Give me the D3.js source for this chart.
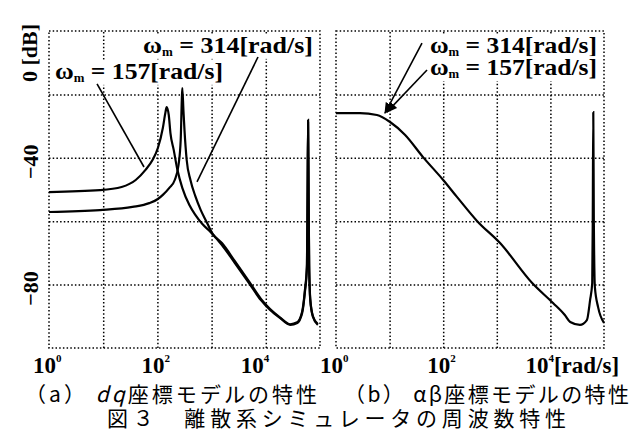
<!DOCTYPE html>
<html>
<head>
<meta charset="utf-8">
<title>図3 離散系シミュレータの周波数特性</title>
<script src="https://cdnjs.cloudflare.com/ajax/libs/d3/7.8.5/d3.min.js"></script>
<style>
  body { margin: 0; background: #fff; }
  .grid line, .frame { stroke: #000; stroke-width: 1.5; stroke-dasharray: 1.5 2.2; fill: none; }
  .curve { fill: none; stroke: #000; stroke-width: 2.2; }
  .leader { stroke: #000; stroke-width: 1.6; }
  .wlabel, .tick-label, .gain-label { font-family: "Liberation Serif", "DejaVu Serif", serif; font-weight: bold; fill: #000; }
  .caption { font-family: "Noto Sans CJK JP", "Noto Sans", sans-serif; fill: #000; }
</style>
</head>
<body>
<svg id="chart" width="639" height="434"></svg>
<script>
// frequency [rad/s] and gain [dB]

// (a) dq model, wm = 157 rad/s
var dq157Freq = [1, 8.7, 21.9, 39.8, 60.3, 81.3, 102, 126, 141, 148, 162, 174, 200, 234, 288, 389, 501, 676, 955,
                 1550, 2690, 4900, 8130, 12000, 18200, 28200, 38000, 46800, 52500, 57500, 58900, 60300, 61700, 63100, 66100, 74100, 91200];
var dq157Gain = [-50.8, -50.2, -49.2, -47.0, -43.8, -40.7, -36.9, -30.6, -25.6, -24.0, -26.5, -32.2, -37.5, -43.8, -49.5, -54.9, -58.0, -60.9, -63.4,
                 -67.5, -73.2, -79.5, -84.9, -88.0, -90.5, -92.7, -92.1, -89.0, -82.6, -74.4, -53.3, -29.0, -53.3, -74.4, -84.9, -90.2, -92.7];

// (a) dq model, wm = 314 rad/s
var dq314Freq = [1, 8.7, 34.7, 70.8, 102, 126, 166, 209, 245, 269, 282, 288, 302, 316, 347, 407, 501, 631, 813, 1047,
                 1550, 2690, 4900, 8130, 12000, 18200, 28200, 38000, 46800, 52500, 57500, 58900, 60300, 61700, 63100, 66100, 74100, 91200];
var dq314Gain = [-57.1, -56.5, -55.5, -54.3, -53.0, -51.7, -49.5, -47.0, -42.3, -34.4, -21.8, -18.0, -24.9, -31.2, -40.7, -47.0, -52.1, -56.5, -60.3, -64.0,
                 -66.9, -72.6, -79.0, -84.5, -87.7, -90.3, -92.5, -91.9, -88.6, -82.0, -73.5, -52.0, -28.0, -52.0, -73.5, -84.5, -90.0, -92.5];

// (b) alpha-beta model, both wm give the same curve
var abFreq = [1, 2.8, 5.8, 10.2, 19.5, 41.7, 100, 182, 427, 1150, 4570, 11200, 18600, 23400, 35500, 47900, 55000, 60300, 61700, 63100, 64600, 67600, 77600, 100000];
var abGain = [-25.9, -25.9, -26.5, -28.7, -32.8, -39.7, -47.0, -52.4, -59.9, -66.9, -79.5, -85.8, -89.6, -91.8, -92.7, -91.2, -84.9, -79.5, -59.6, -25.6, -59.6, -80.8, -87.1, -92.1];

var freqGrid = [1e1, 1e2, 1e3, 1e4];
var gainGrid = [-20, -40, -60, -80];
var freqLabels = [1, 1e2, 1e4];
var gainLabels = [-40, -80];

var svg = d3.select("#chart");

var y = d3.scaleLinear().domain([0, -100]).range([31, 348]);
var xLeft = d3.scaleLog().domain([1, 1e5]).range([49, 320]);
var xRight = d3.scaleLog().domain([1, 1e5]).range([336, 604]);

svg.append("defs").append("marker")
    .attr("id", "arrow")
    .attr("viewBox", "0 0 10 10")
    .attr("refX", 9).attr("refY", 5)
    .attr("markerWidth", 7).attr("markerHeight", 7)
    .attr("orient", "auto")
  .append("path")
    .attr("d", "M0,1 L10,5 L0,9 Z");

function drawGrid(x) {
  var x0 = x.range()[0], x1 = x.range()[1];
  var g = svg.append("g").attr("class", "grid");
  g.append("g")
      .attr("transform", "translate(0," + y(-100) + ")")
      .call(d3.axisBottom(x).tickValues(freqGrid).tickSize(-(y(-100) - y(0))).tickFormat(""));
  g.append("g")
      .attr("transform", "translate(" + x0 + ",0)")
      .call(d3.axisLeft(y).tickValues(gainGrid).tickSize(-(x1 - x0)).tickFormat(""));
  g.selectAll(".domain").remove();
  svg.append("rect").attr("class", "frame")
      .attr("x", x0).attr("y", y(0))
      .attr("width", x1 - x0).attr("height", y(-100) - y(0));
}

function drawCurve(x, freq, gain) {
  var line = d3.line()
      .x(function(d) { return x(d[0]); })
      .y(function(d) { return y(d[1]); })
      .curve(d3.curveMonotoneX);
  svg.append("path").attr("class", "curve").attr("d", line(d3.zip(freq, gain)));
}

function omegaLabel(x, f, db, value, len) {
  var t = svg.append("text").attr("class", "wlabel")
      .attr("x", x(f)).attr("y", y(db))
      .attr("font-size", 24)
      .attr("textLength", len).attr("lengthAdjust", "spacingAndGlyphs");
  t.append("tspan").text("ω");
  t.append("tspan").attr("font-size", 12).attr("dy", 3).text("m");
  t.append("tspan").attr("dy", -3).text(" = " + value + "[rad/s]");
  var b = t.node().getBBox();
  svg.insert("rect", function() { return t.node(); })
      .attr("x", b.x - 2).attr("y", b.y + 2)
      .attr("width", b.width + 4).attr("height", b.height - 2)
      .attr("fill", "#fff");
}

function leader(x, f1, g1, f2, g2, arrow) {
  var l = svg.append("line").attr("class", "leader")
      .attr("x1", x(f1)).attr("y1", y(g1))
      .attr("x2", x(f2)).attr("y2", y(g2));
  if (arrow) l.attr("marker-end", "url(#arrow)");
}

function tickLabels(x, unit) {
  freqLabels.forEach(function(v) {
    var t = svg.append("text").attr("class", "tick-label")
        .attr("x", x(v) - (v === 1e4 ? 25 : 16)).attr("y", 373)
        .attr("font-size", 23);
    t.append("tspan").text("10");
    t.append("tspan").attr("font-size", 11).attr("dy", -11).text(Math.round(Math.log10(v)));
    if (unit && v === 1e4) t.append("tspan").attr("dy", 11).text("[rad/s]");
  });
}

// (a) dq
drawGrid(xLeft);
drawCurve(xLeft, dq157Freq, dq157Gain);
drawCurve(xLeft, dq314Freq, dq314Gain);
omegaLabel(xLeft, 54.2, -6.9, 314, 170);
omegaLabel(xLeft, 1.29, -15.1, 157, 168);
leader(xLeft, 7.7, -16.7, 56.6, -42.9, false);
leader(xLeft, 7180, -8.2, 538, -47.6, false);
tickLabels(xLeft, false);

// (b) alpha-beta
drawGrid(xRight);
drawCurve(xRight, abFreq, abGain);
omegaLabel(xRight, 56.7, -6.9, 314, 167);
omegaLabel(xRight, 56.7, -13.9, 157, 167);
leader(xRight, 40.2, -3.8, 8.2, -25.9, true);
leader(xRight, 49.9, -12.3, 8.9, -25.6, true);
tickLabels(xRight, true);

// gain labels (rotated)
gainLabels.forEach(function(v) {
  svg.append("text").attr("class", "gain-label")
      .attr("font-size", 22)
      .attr("text-anchor", "middle")
      .attr("transform", "translate(38," + (y(v) + 4) + ") rotate(-90)")
      .text("\u2212" + Math.abs(v));
});
svg.append("text").attr("class", "gain-label")
    .attr("font-size", 22)
    .attr("transform", "translate(37,82) rotate(-90)")
    .text("0 [dB]");

// caption
var cap1 = svg.append("text").attr("class", "caption").attr("font-size", 21)
    .attr("x", 25).attr("y", 402).attr("textLength", 292).attr("lengthAdjust", "spacing");
cap1.append("tspan").text("（a） ");
cap1.append("tspan").attr("font-style", "italic").text("dq");
cap1.append("tspan").text("座標モデルの特性");

svg.append("text").attr("class", "caption").attr("font-size", 21)
    .attr("x", 344).attr("y", 402).attr("textLength", 285).attr("lengthAdjust", "spacing")
    .text("（b） αβ座標モデルの特性");

svg.append("text").attr("class", "caption").attr("font-size", 21)
    .attr("x", 107).attr("y", 426).attr("textLength", 459).attr("lengthAdjust", "spacing")
    .text("図３　離散系シミュレータの周波数特性");
</script>
</body>
</html>
